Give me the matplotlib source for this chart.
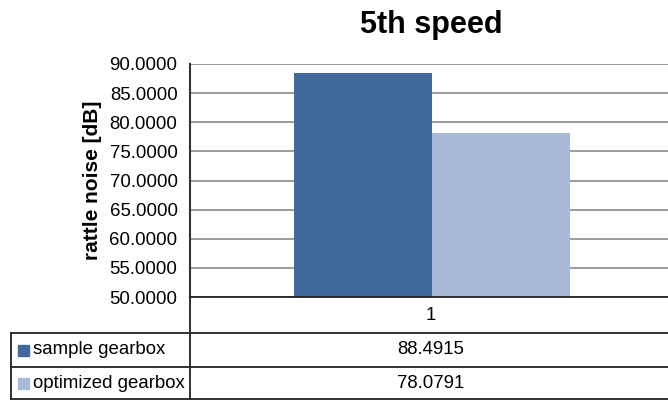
import matplotlib
matplotlib.use("Agg")
import matplotlib.pyplot as plt
from matplotlib.lines import Line2D
from matplotlib.patches import Rectangle

# ---- data ----
title = "5th speed"
ylabel = "rattle noise [dB]"
categories = ["1"]
series_names = ["sample gearbox", "optimized gearbox"]
series_values = [[88.4915], [78.0791]]
series_colors = ["#41699B", "#A9BAD8"]
y_ticks = [50, 55, 60, 65, 70, 75, 80, 85, 90]

plt.rcParams['font.family'] = ['Liberation Sans', 'DejaVu Sans']

W, H = 668, 400
fig = plt.figure(figsize=(W / 100, H / 100), dpi=100)

def fx(px):
    return px / W

def fy(py):
    return 1 - py / H

FS = 13.4
ax_left, ax_right, ax_top, ax_bottom = 190, 674, 64, 297
ax = fig.add_axes([fx(ax_left), fy(ax_bottom), fx(ax_right - ax_left), (ax_bottom - ax_top) / H])

n = len(series_names)
bw = 0.285
for i, (name, vals, col) in enumerate(zip(series_names, series_values, series_colors)):
    xs = [k + (i - (n - 1) / 2) * bw for k in range(len(categories))]
    ax.bar(xs, [v - y_ticks[0] for v in vals], bottom=y_ticks[0], width=bw, color=col, zorder=3)

ax.set_xlim(-0.5, len(categories) - 0.5)
ax.set_ylim(y_ticks[0], y_ticks[-1])
ax.set_yticks(y_ticks)
ax.set_yticklabels([f"{t:.4f}" for t in y_ticks], fontsize=FS)
ax.set_xticks([])
ax.yaxis.grid(True, color="#8a8a8a", linewidth=1.2, zorder=0)
ax.tick_params(axis="y", length=0, pad=9)
for s in ["top", "right", "bottom"]:
    ax.spines[s].set_visible(False)
ax.spines["left"].set_color("#333333")
ax.spines["left"].set_linewidth(1.5)
ax.set_ylabel(ylabel, fontsize=15, fontweight="bold", labelpad=5)
fig.text(fx(431), fy(33), title, ha="center", va="baseline", fontsize=22, fontweight="bold")

# ---- data table below ----
lc = "#222222"
lw = 1.3
row_y = [297, 333, 367, 399]
tbl_left = 11
def hline(y, x0, x1):
    fig.add_artist(Line2D([fx(x0), fx(x1)], [fy(y), fy(y)], color=lc, linewidth=lw))
def vline(x, y0, y1):
    fig.add_artist(Line2D([fx(x), fx(x)], [fy(y0), fy(y1)], color=lc, linewidth=lw))

hline(row_y[0], ax_left, W)
hline(row_y[1], tbl_left, W)
hline(row_y[2], tbl_left, W)
hline(row_y[3], tbl_left, W)
vline(ax_left, row_y[0], row_y[3])
vline(tbl_left, row_y[1], row_y[3])

cat_x = 431
for k, c in enumerate(categories):
    fig.text(fx(cat_x), fy((row_y[0] + row_y[1]) / 2), c, ha="center", va="center", fontsize=FS)

for i, (name, vals, col) in enumerate(zip(series_names, series_values, series_colors)):
    yc = (row_y[i + 1] + row_y[i + 2]) / 2
    fig.add_artist(Rectangle((fx(18), fy(yc + 5.5)), fx(11), 11 / H, color=col, transform=fig.transFigure))
    fig.text(fx(33), fy(yc), name, ha="left", va="center", fontsize=FS)
    for k, v in enumerate(vals):
        fig.text(fx(cat_x), fy(yc), f"{v:.4f}", ha="center", va="center", fontsize=FS)

fig.savefig("out.png", dpi=100)
